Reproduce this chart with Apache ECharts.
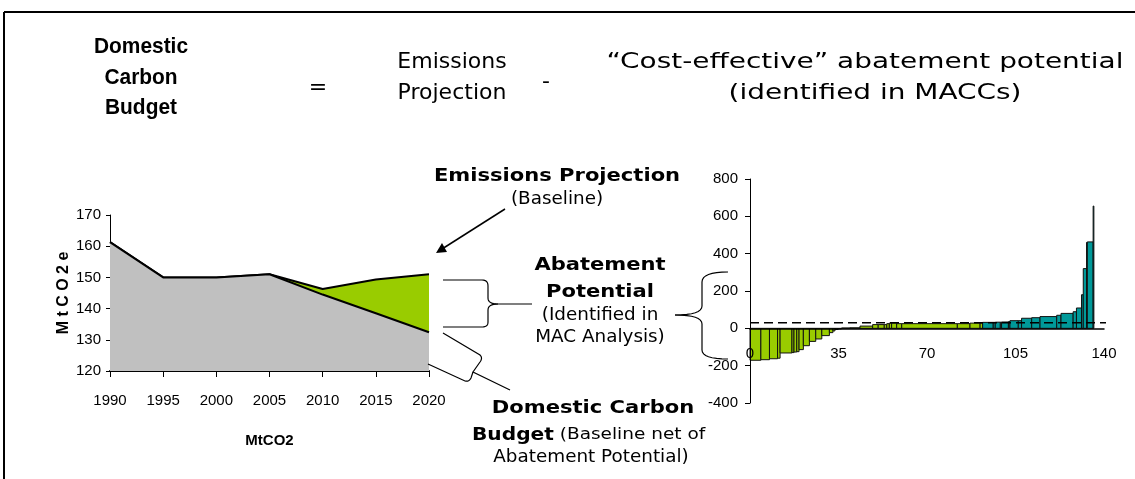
<!DOCTYPE html>
<html><head><meta charset="utf-8">
<script src="https://cdn.jsdelivr.net/npm/echarts@6/dist/echarts.min.js"></script>
<style>html,body{margin:0;padding:0;background:#fff;} #c{width:1135px;height:479px;}</style>
</head><body><div id="c"></div>
<script>
// ---- Left chart: emissions (MtCO2e) ----
var years = ['1990', '1995', '2000', '2005', '2010', '2015', '2020'];
var baseline = [161.3, 150, 150, 151, 146.3, 149.3, 151];
var budget = [161.3, 150, 150, 151, 144.5, 138.5, 132.4];
var leftYMin = 120, leftYMax = 170, leftYStep = 10;

// ---- Right chart: MACC (cumulative abatement width, cost per bar) ----
var maccWidth = [4.3, 3.4, 3.2, 1.0, 4.7, 0.8, 1.1, 0.9, 1.7, 2.4, 2.5, 2.4, 3.0, 1.4, 0.8, 1.3, 1.3,
  3.3, 4.0, 5.0, 2.2, 2.4, 1.0, 1.0, 0.9, 2.0, 2.0, 22.0, 5.0, 4.0, 1.0,
  4.2, 0.8, 2.0, 0.5, 2.7, 0.6, 3.3, 1.3, 4.0, 3.3, 6.6, 1.7, 4.8, 1.3, 2.0, 0.7, 1.3, 0.3, 2.3, 0.3];
var maccCost = [-171, -168, -163, -160, -132, -130, -127, -125, -114, -93, -70, -57, -39, -23, -14, -6, -3,
  2, 3, 12, 20, 20, 20, 25, 28, 28, 25, 25, 25, 28, 28,
  32, 32, 33, 33, 34, 36, 41, 41, 54, 57, 63, 70, 80, 89, 109, 180, 320, 460, 463, 655];
var maccGroup = [0,0,0,0,0,0,0,0,0,0,0,0,0,0,0,0,0, 0,0,0,0,0,0,0,0,0,0,0,0,0,0,
  1,1,1,1,1,1,1,1,1,1,1,1,1,1,1,1,1,1,1,1];
var maccXTicks = [0, 35, 70, 105, 140];
var maccYMin = -400, maccYMax = 800, maccYStep = 200;
var carbonPrice = 30;
var carbonPriceSpan = [0, 143.5];

var GREEN = '#99CC00', TEAL = '#009999', GREY = '#C0C0C0';
var ARIAL = "'Liberation Sans', Arial, sans-serif";
var VERD = "'DejaVu Sans', Verdana, sans-serif";

var maccData = [];
var acc = 0;
for (var i = 0; i < maccWidth.length; i++) {
  maccData.push([acc, acc + maccWidth[i], maccCost[i], maccGroup[i]]);
  acc += maccWidth[i];
}

function txt(x, y, text, size, bold, sx, fam) {
  return {
    type: 'text', x: x, y: y, scaleX: sx || 1, z: 100,
    style: { text: text, fontFamily: fam || VERD, fontSize: size, fontWeight: bold ? 'bold' : 'normal',
      fill: '#000', align: 'center', verticalAlign: 'middle' }
  };
}
// decorative connector strokes: segments of straight lines and quadratic curves
function curvePts(segs) {
  var pts = [segs[0]];
  for (var s = 1; s < segs.length; s++) {
    var seg = segs[s];
    var last = pts[pts.length - 1];
    if (seg.length === 2 && typeof seg[0] === 'number') { pts.push(seg); continue; }
    var c = seg[0], e = seg[1];
    for (var t = 1; t <= 8; t++) {
      var u = t / 8;
      pts.push([(1 - u) * (1 - u) * last[0] + 2 * (1 - u) * u * c[0] + u * u * e[0],
                (1 - u) * (1 - u) * last[1] + 2 * (1 - u) * u * c[1] + u * u * e[1]]);
    }
  }
  return { type: 'polyline', z: 100, shape: { points: pts }, style: { stroke: '#000', lineWidth: 1.2, fill: null } };
}

var chart = echarts.init(document.getElementById('c'));
chart.setOption({
  animation: false,
  backgroundColor: '#fff',
  grid: [
    { left: 110, top: 215, width: 319, height: 156 },
    { left: 750, top: 179, width: 354, height: 224 }
  ],
  xAxis: [
    { type: 'category', gridIndex: 0, data: years, boundaryGap: false,
      axisLine: { lineStyle: { color: '#000', width: 2 } },
      axisTick: { show: true, length: 6, lineStyle: { color: '#000' } },
      axisLabel: { fontFamily: ARIAL, fontSize: 15, color: '#000', margin: 22 },
      splitLine: { show: false },
      name: 'MtCO2', nameLocation: 'middle', nameGap: 62,
      nameTextStyle: { fontFamily: ARIAL, fontWeight: 'bold', fontSize: 15, color: '#000' } },
    { type: 'value', gridIndex: 1, z: 10, min: maccXTicks[0], max: maccXTicks[maccXTicks.length - 1],
      interval: maccXTicks[1] - maccXTicks[0],
      axisLine: { onZero: true, lineStyle: { color: '#000', width: 1.5 } },
      axisTick: { show: false },
      axisLabel: { fontFamily: ARIAL, fontSize: 15, color: '#000', margin: -57 },
      splitLine: { show: false } }
  ],
  yAxis: [
    { type: 'value', gridIndex: 0, min: leftYMin, max: leftYMax, interval: leftYStep,
      axisLine: { show: true, lineStyle: { color: '#000', width: 1 } },
      axisTick: { show: true, length: 4, lineStyle: { color: '#000' } },
      axisLabel: { fontFamily: ARIAL, fontSize: 15, color: '#000', margin: 9 },
      splitLine: { show: false },
      name: 'M t C O 2 e', nameLocation: 'middle', nameRotate: 90, nameGap: 27,
      nameTextStyle: { fontFamily: ARIAL, fontWeight: 'bold', fontSize: 16, color: '#000' } },
    { type: 'value', gridIndex: 1, z: 10, min: maccYMin, max: maccYMax, interval: maccYStep,
      axisLine: { show: true, onZero: false, lineStyle: { color: '#000', width: 1 } },
      axisTick: { show: true, length: 5, lineStyle: { color: '#000' } },
      axisLabel: { fontFamily: ARIAL, fontSize: 15, color: '#000', margin: 12 },
      splitLine: { show: false } }
  ],
  series: [
    { type: 'line', xAxisIndex: 0, yAxisIndex: 0, data: baseline, symbol: 'none', z: 2,
      lineStyle: { color: '#000', width: 2 },
      areaStyle: { color: GREEN, opacity: 1, origin: 'start' } },
    { type: 'line', xAxisIndex: 0, yAxisIndex: 0, data: budget, symbol: 'none', z: 3,
      lineStyle: { color: '#000', width: 2 },
      areaStyle: { color: GREY, opacity: 1, origin: 'start' } },
    { type: 'custom', xAxisIndex: 1, yAxisIndex: 1, data: maccData, z: 3,
      encode: { x: [0, 1], y: 2 },
      renderItem: function (params, api) {
        var x0 = api.value(0), x1 = api.value(1), v = api.value(2);
        var p0 = api.coord([x0, v]);
        var p1 = api.coord([x1, 0]);
        return {
          type: 'rect',
          shape: { x: p0[0], y: Math.min(p0[1], p1[1]), width: p1[0] - p0[0], height: Math.abs(p1[1] - p0[1]) },
          style: { fill: api.value(3) === 0 ? GREEN : TEAL, stroke: '#111', lineWidth: 1 }
        };
      } },
    { type: 'line', xAxisIndex: 1, yAxisIndex: 1, symbol: 'none', clip: false, z: 5,
      data: [[carbonPriceSpan[0], carbonPrice], [carbonPriceSpan[1], carbonPrice]],
      lineStyle: { color: '#000', width: 1.5, type: [9, 5] } }
  ],
  graphic: [
    // frame
    { type: 'line', z: 100, shape: { x1: 4, y1: 12, x2: 1135, y2: 12 }, style: { stroke: '#000', lineWidth: 2 } },
    { type: 'line', z: 100, shape: { x1: 4, y1: 12, x2: 4, y2: 479 }, style: { stroke: '#000', lineWidth: 2 } },
    // equation title
    txt(141, 47, 'Domestic', 22, true, 0.95, ARIAL),
    txt(141, 78, 'Carbon', 22, true, 0.95, ARIAL),
    txt(141, 108, 'Budget', 22, true, 0.95, ARIAL),
    txt(318, 88, '=', 22, false),
    txt(452, 62, 'Emissions', 22, false),
    txt(452, 93, 'Projection', 22, false),
    txt(546, 82, '-', 22, false),
    txt(865, 62, '\u201CCost-effective\u201D abatement potential', 22, false, 1.27),
    txt(875, 93, '(identified in MACCs)', 22, false, 1.27),
    // annotations
    txt(557, 176, 'Emissions Projection', 18, true, 1.17),
    txt(557, 200, '(Baseline)', 17, false, 1.08),
    txt(600, 265, 'Abatement', 18, true, 1.17),
    txt(600, 292, 'Potential', 18, true, 1.17),
    txt(600, 316, '(Identified in', 17, false, 1.08),
    txt(600, 338, 'MAC Analysis)', 17, false, 1.08),
    txt(593, 408, 'Domestic Carbon', 18, true, 1.17),
    { type: 'text', x: 472, y: 435, scaleX: 1.12, z: 100,
      style: { text: '{b|Budget} (Baseline net of', fontFamily: VERD, fontSize: 16.5, fill: '#000',
        align: 'left', verticalAlign: 'middle',
        rich: { b: { fontFamily: VERD, fontSize: 18, fontWeight: 'bold', fill: '#000' } } } },
    txt(591, 458, 'Abatement Potential)', 17, false, 1.08),
    // arrow
    { type: 'line', z: 100, shape: { x1: 505, y1: 209, x2: 442, y2: 249 }, style: { stroke: '#000', lineWidth: 1.5 } },
    { type: 'polygon', z: 100, shape: { points: [[436, 253], [447, 252], [442, 243]] }, style: { fill: '#000' } },
    // braces
    curvePts([[443, 280], [482, 280], [[488, 280], [488, 286]], [488, 298], [[488, 304], [498, 304]], [532, 304]]),
    curvePts([[498, 304], [[488, 304], [488, 310]], [488, 322], [[488, 327], [482, 327]], [443, 327]]),
    curvePts([[728, 272], [[702, 272], [702, 282]], [702, 306], [[702, 315], [675, 315]]]),
    curvePts([[675, 315], [[702, 315], [702, 324]], [702, 350], [[702, 359], [728, 359]]]),
    curvePts([[443, 333], [480, 355], [[483, 358], [480, 362]], [473, 372], [510, 390]]),
    curvePts([[428, 364], [465, 381], [[469, 382], [471, 378]], [473, 372]])
  ]
});
</script>
</body></html>
